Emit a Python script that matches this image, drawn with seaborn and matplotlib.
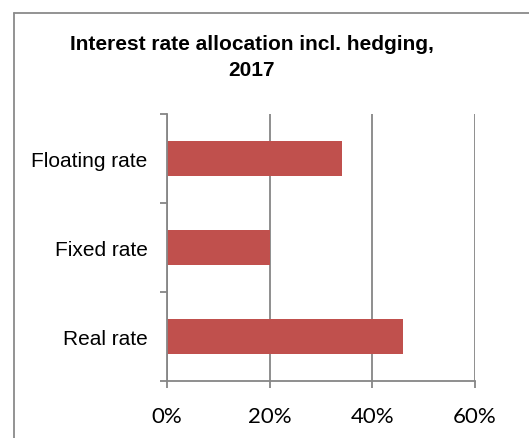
import matplotlib
matplotlib.use("Agg")
import matplotlib.pyplot as plt
from matplotlib.lines import Line2D
from matplotlib.ticker import FixedLocator
import seaborn as sns
import pandas as pd

categories = ["Floating rate", "Fixed rate", "Real rate"]
shares = [34, 20, 46]
x_ticks = [0, 20, 40, 60]
x_tick_labels = ["0%", "20%", "40%", "60%"]
title_lines = ["Interest rate allocation incl. hedging,", "2017"]

df = pd.DataFrame({"category": categories, "share": shares})

sns.set_theme(style="white")
plt.rcParams["font.family"] = ["Liberation Sans", "DejaVu Sans"]
plt.rcParams["text.color"] = "black"

grid_col = "#868686"
bar_col = "#C0504D"

fig = plt.figure(figsize=(5.29, 4.39), dpi=100)
ax = fig.add_axes([167 / 529, 1 - 382 / 439, (475 - 167) / 529, (382 - 115) / 439])

sns.barplot(data=df, x="share", y="category", order=categories, orient="h",
            color=bar_col, saturation=1, width=0.4, edgecolor="none", ax=ax)

ax.set_xlim(0, 60)
ax.set_ylim(2.5, -0.5)
ax.set_xticks(x_ticks)
ax.set_xticklabels(x_tick_labels, fontfamily="Lato", fontsize=16)
ax.set_xlabel("")
ax.set_ylabel("")

# category labels centred on the bars, ticks on the band boundaries
ax.set_yticks(range(len(categories)))
ax.set_yticklabels(categories, fontsize=15)
ax.yaxis.set_minor_locator(FixedLocator([-0.5, 0.5, 1.5, 2.5]))
ax.tick_params(axis="y", which="major", length=0, pad=14)
ax.tick_params(axis="y", which="minor", length=5, width=1.3, color=grid_col, direction="out", left=True)
ax.tick_params(axis="x", which="major", length=5, width=1.3, color=grid_col, direction="out",
               bottom=True, pad=13, labelcolor="black")
ax.tick_params(axis="y", labelcolor="black")

ax.set_axisbelow(True)
ax.grid(axis="x", color=grid_col, linewidth=1.3)
ax.grid(axis="y", visible=False)
for side in ["top", "right"]:
    ax.spines[side].set_visible(False)
for side in ["left", "bottom"]:
    ax.spines[side].set_color(grid_col)
    ax.spines[side].set_linewidth(1.3)

fig.text(0.476, 1 - 45 / 439, title_lines[0], ha="center", va="center",
         fontsize=15, fontweight="bold", color="black")
fig.text(0.476, 1 - 70 / 439, title_lines[1], ha="center", va="center",
         fontsize=15, fontweight="bold", color="black")

# chart frame (left and top edges)
fig.add_artist(Line2D([13.5 / 529, 13.5 / 529], [0, 1 - 13.5 / 439], transform=fig.transFigure,
                      color="#8a8a8a", linewidth=1.3))
fig.add_artist(Line2D([13.5 / 529, 1], [1 - 13.5 / 439, 1 - 13.5 / 439], transform=fig.transFigure,
                      color="#8a8a8a", linewidth=1.3))

fig.savefig("out.png", dpi=100, facecolor="white")
